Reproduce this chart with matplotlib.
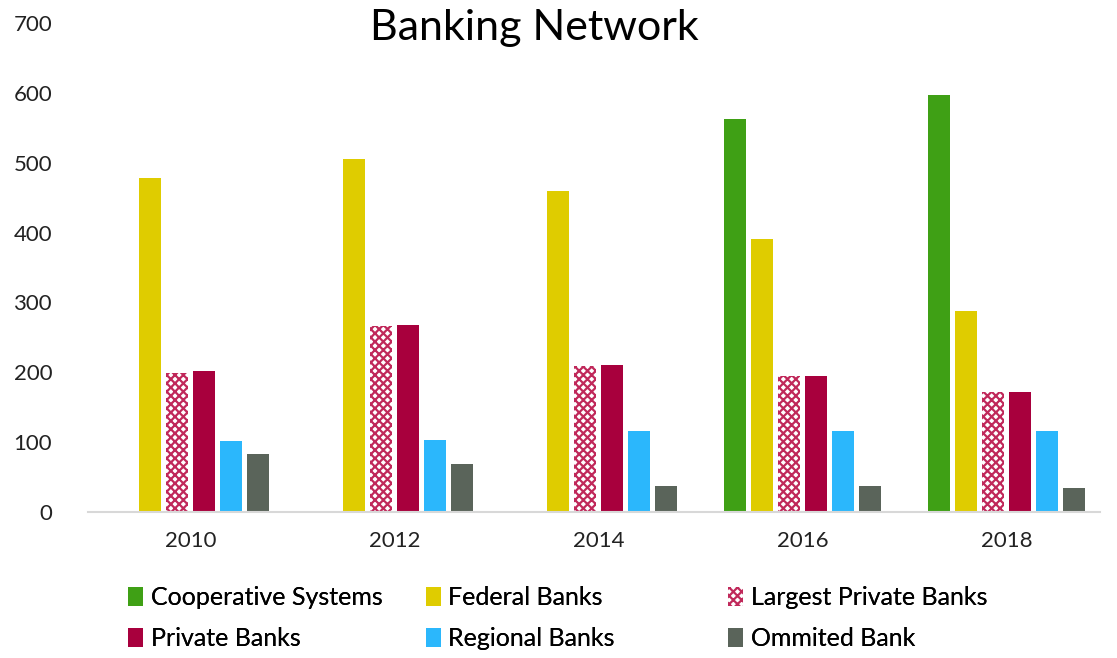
import numpy as np
import matplotlib.pyplot as plt

plt.rcParams['font.family'] = ['Lato', 'DejaVu Sans']
plt.rcParams['hatch.linewidth'] = 1.6

years = ['2010', '2012', '2014', '2016', '2018']
cooperative = [0, 0, 0, 562, 597]
federal = [478, 506, 460, 391, 287]
largest_private = [199, 266, 209, 195, 172]
private = [202, 268, 211, 195, 172]
regional = [102, 103, 116, 116, 116]
ommited = [83, 69, 37, 37, 34]

series = [
    ('Cooperative Systems', cooperative, '#3fa015', None),
    ('Federal Banks', federal, '#dfcc00', None),
    ('Largest Private Banks', largest_private, 'white', 'xxxx'),
    ('Private Banks', private, '#a8003d', None),
    ('Regional Banks', regional, '#2bb7fc', None),
    ('Ommited Bank', ommited, '#5a645a', None),
]

fig = plt.figure(figsize=(11.17, 6.58), dpi=100)
ax = fig.add_axes([0.079, 0.222, 0.906, 0.743])

x = np.arange(len(years))
step = 0.132
width = 0.108
handles = []
for i, (name, vals, color, hatch) in enumerate(series):
    pos = x + (i - 2.5) * step
    if hatch:
        bars = ax.bar(pos, vals, width, color='white', edgecolor='#c0285a',
                      hatch=hatch, linewidth=0)
    else:
        bars = ax.bar(pos, vals, width, color=color, linewidth=0)
    handles.append(bars)

ax.set_ylim(0, 700)
ax.set_xlim(-0.5, 4.46)
ax.set_yticks(range(0, 701, 100))
ax.set_xticks(x)
ax.set_xticklabels(years)
ax.tick_params(axis='y', length=0, pad=26, labelsize=16, colors='#222222')
ax.tick_params(axis='x', length=0, pad=14, labelsize=16, colors='#222222')
for s in ['top', 'right', 'left']:
    ax.spines[s].set_visible(False)
ax.spines['bottom'].set_color('#d8d8d8')
ax.spines['bottom'].set_linewidth(1.5)

fig.text(0.478, 0.958, 'Banking Network', ha='center', va='center', fontsize=31)

# one legend per column so each column sits where it should
col_x = [0.106, 0.372, 0.643]
for c in range(3):
    idx = [c, c + 3]
    leg = fig.legend([handles[k] for k in idx], [series[k][0] for k in idx],
                     loc='upper left', bbox_to_anchor=(col_x[c], 0.125),
                     frameon=False, fontsize=18, handlelength=0.6,
                     handleheight=0.8, handletextpad=0.3, labelspacing=0.75,
                     borderaxespad=0)
    fig.add_artist(leg)

fig.savefig('out.png', dpi=100)
